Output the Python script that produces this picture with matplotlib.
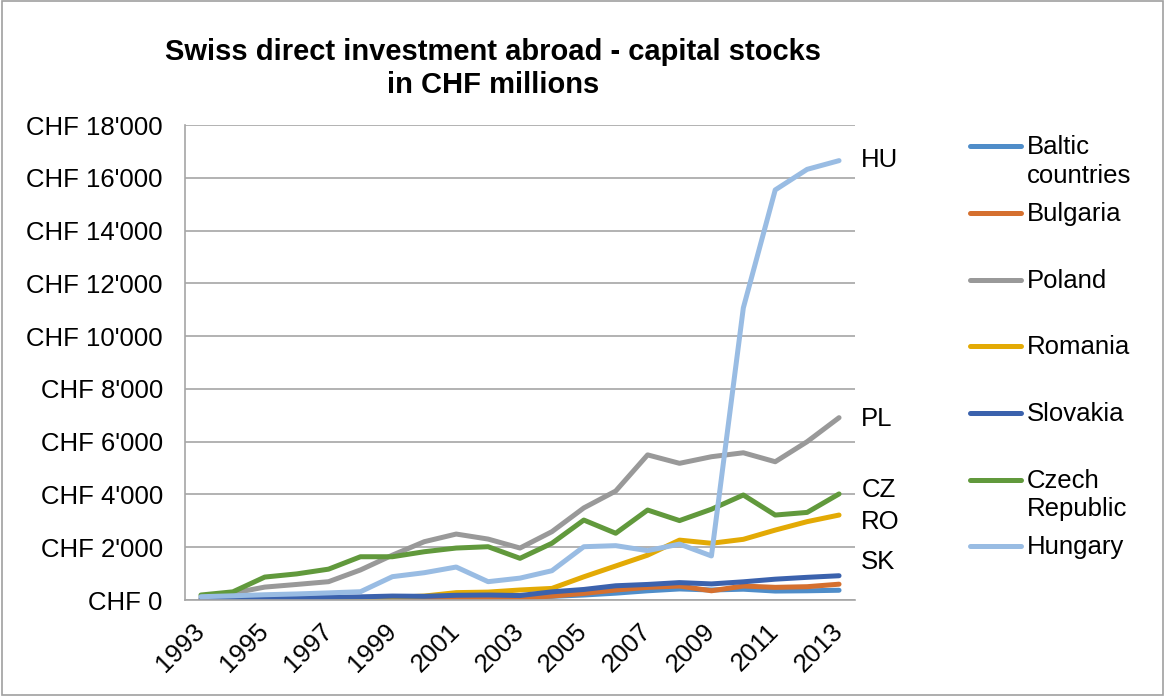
import matplotlib.pyplot as plt
from matplotlib.lines import Line2D
from matplotlib.ticker import FuncFormatter

plt.rcParams['font.family'] = ['Liberation Sans', 'DejaVu Sans']

# Data (CHF millions)
years = list(range(1993, 2014))
baltic = [0, 10, 20, 25, 30, 40, 50, 60, 80, 90, 110, 140, 190, 260, 350, 420, 380, 410, 340, 350, 370]
bulgaria = [0, 5, 10, 10, 15, 15, 20, 20, 25, 30, 80, 150, 250, 380, 480, 530, 350, 530, 480, 505, 600]
poland = [100, 260, 490, 590, 695, 1140, 1700, 2210, 2500, 2310, 1970, 2590, 3490, 4130, 5500, 5180, 5430, 5580, 5240, 6000, 6910]
romania = [0, 10, 20, 40, 60, 80, 100, 150, 280, 300, 380, 440, 880, 1290, 1700, 2270, 2150, 2300, 2650, 2970, 3220]
slovakia = [20, 40, 60, 80, 100, 120, 150, 140, 180, 190, 170, 310, 400, 540, 590, 660, 610, 690, 790, 860, 920]
czech = [190, 310, 870, 990, 1170, 1640, 1640, 1830, 1970, 2020, 1580, 2150, 3030, 2530, 3410, 3010, 3440, 3980, 3220, 3320, 4020]
hungary = [125, 160, 200, 230, 270, 315, 885, 1035, 1250, 695, 830, 1110, 2020, 2060, 1870, 2120, 1670, 11070, 15540, 16320, 16650]

names = ['Baltic\ncountries', 'Bulgaria', 'Poland', 'Romania', 'Slovakia', 'Czech\nRepublic', 'Hungary']
series = [baltic, bulgaria, poland, romania, slovakia, czech, hungary]
colors = ['#4F8DC9', '#D5702F', '#999999', '#E3AA05', '#3B62AD', '#61993C', '#99BCE3']

# End-of-line country codes (value shift so labels don't collide)
end_labels = {'HU': hungary, 'PL': poland, 'CZ': czech, 'RO': romania, 'SK': slovakia}
end_shift = {'HU': 100, 'PL': 30, 'CZ': 260, 'RO': -150, 'SK': 600}

FS = 18.5

fig = plt.figure(figsize=(11.65, 6.96), dpi=100)
ax = fig.add_axes([0.1588, 0.1379, 0.5751, 0.6825])

for vals, c in zip(series, colors):
    ax.plot(years, vals, color=c, lw=3.6, solid_capstyle='round', solid_joinstyle='round')

ax.set_xlim(years[0] - 0.5, years[-1] + 0.5)
ax.set_ylim(0, 18000)
ax.set_yticks(range(0, 18001, 2000))
ax.yaxis.set_major_formatter(FuncFormatter(lambda v, p: 'CHF ' + f"{int(v):,}".replace(',', "'")))
ax.set_xticks(years[::2])
ax.set_xticklabels([str(y) for y in years[::2]], rotation=45, ha='right', va='center',
                   rotation_mode='anchor')
ax.tick_params(axis='both', length=0, labelsize=FS)
ax.tick_params(axis='y', pad=16)
ax.tick_params(axis='x', pad=20)
ax.grid(axis='y', color='#A6A6A6', lw=1.2)
ax.set_axisbelow(True)
for s in ['top', 'right']:
    ax.spines[s].set_visible(False)
for s in ['left', 'bottom']:
    ax.spines[s].set_color('#A6A6A6')
    ax.spines[s].set_linewidth(1.2)

for lab, vals in end_labels.items():
    ax.annotate(lab, xy=(years[-1], vals[-1] + end_shift[lab]), xytext=(16, 0),
                textcoords='offset points', va='center_baseline', ha='left', fontsize=FS,
                annotation_clip=False)

fig.text(0.423, 0.866, 'Swiss direct investment abroad - capital stocks\nin CHF millions',
         fontsize=21, fontweight='bold', ha='center', va='baseline', linespacing=1.25)

# Legend drawn by hand to mimic Excel layout
leg_y0, leg_dy = 0.790, 0.0958
for i, (name, c) in enumerate(zip(names, colors)):
    y = leg_y0 - i * leg_dy
    fig.add_artist(Line2D([0.833, 0.876], [y, y], color=c, lw=3.6, solid_capstyle='round',
                          transform=fig.transFigure))
    fig.text(0.8815, y + 0.0158, name, fontsize=FS, va='top', ha='left', linespacing=1.25)

# Border around the chart
fig.add_artist(plt.Rectangle((0.002, 0.002), 0.996, 0.996, fill=False, edgecolor='#A0A0A0',
                             lw=1.2, transform=fig.transFigure))

fig.savefig('out.png', dpi=100)
